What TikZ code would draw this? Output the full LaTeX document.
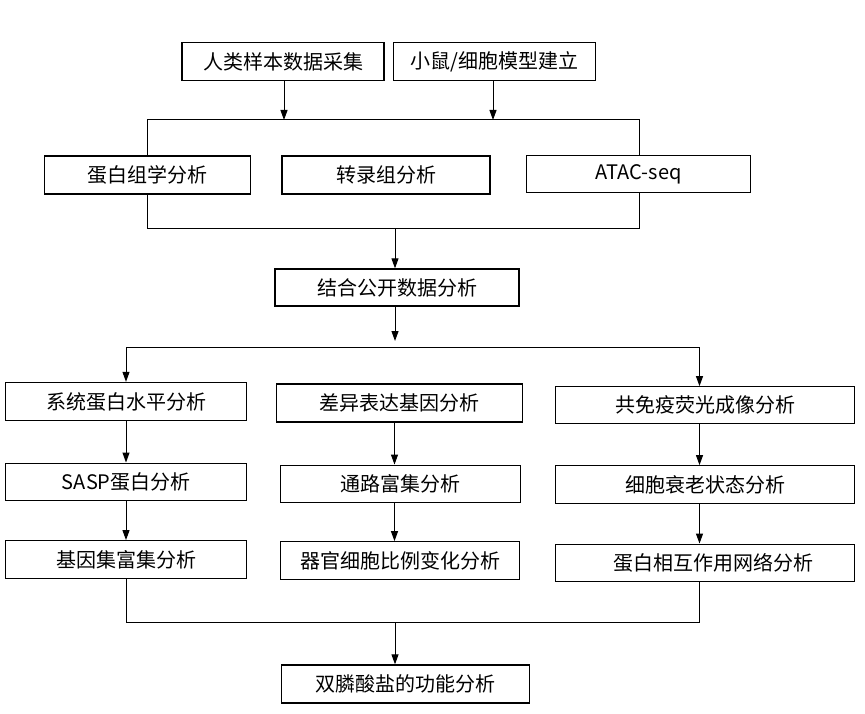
\documentclass[tikz,border=0pt]{standalone}
\usepackage{fontspec}
\setmainfont{Noto Sans CJK SC}
\usetikzlibrary{arrows.meta}
\tikzset{
  box/.style={draw=black, line width=1.3pt, fill=white, inner sep=0pt, font=\fontsize{20}{24}\selectfont},
  conn/.style={draw=black, line width=1pt},
  arr/.style={conn, -{Triangle[length=10pt,width=7pt]}}
}
\begin{document}
\begin{tikzpicture}[x=1pt,y=-1pt]
\useasboundingbox (0,0) rectangle (865,714);
% top
\node[box, minimum width=202pt, minimum height=38pt] (A) at (283,61.5) {人类样本数据采集};
\node[box, minimum width=202pt, minimum height=38pt] (B) at (494.5,61.5) {小鼠/细胞模型建立};
\node[box, minimum width=206pt, minimum height=38pt] (P) at (147.5,175) {蛋白组学分析};
\node[box, minimum width=208pt, minimum height=38pt] (T) at (386,175) {转录组分析};
\node[box, minimum width=224pt, minimum height=37pt] (C) at (638.5,174) {ATAC-seq};
\node[box, minimum width=244pt, minimum height=37pt] (J) at (397,287.5) {结合公开数据分析};
% coordinates
\coordinate (tl) at (147.5,120);
\coordinate (tr) at (639.3,120);
\coordinate (bl) at (147.5,228.5);
\coordinate (br) at (639.3,228.5);
\coordinate (bm) at (395,228.5);
\coordinate (jm) at (395,341);
\coordinate (hl) at (126,347.5);
\coordinate (hr) at (699.5,347.5);
\coordinate (xL) at (126,0);
\coordinate (xM) at (394.5,0);
\coordinate (xR) at (699.5,0);
% rows
\node[box, minimum width=241pt, minimum height=38pt] (S1) at (126.3,401.5) {系统蛋白水平分析};
\node[box, minimum width=246pt, minimum height=38pt] (D1) at (399.7,403) {差异表达基因分析};
\node[box, minimum width=299pt, minimum height=37pt] (G1) at (705,405.3) {共免疫荧光成像分析};
\node[box, minimum width=241pt, minimum height=37pt] (S2) at (126.3,481.7) {SASP蛋白分析};
\node[box, minimum width=240pt, minimum height=37pt] (D2) at (400.3,483.7) {通路富集分析};
\node[box, minimum width=299pt, minimum height=37.5pt] (G2) at (705,484.5) {细胞衰老状态分析};
\node[box, minimum width=241pt, minimum height=37.5pt] (S3) at (126.3,559.5) {基因集富集分析};
\node[box, minimum width=239pt, minimum height=38pt] (D3) at (400,560.8) {器官细胞比例变化分析};
\node[box, minimum width=299pt, minimum height=37pt] (G3) at (705,562.7) {\hspace*{16pt}蛋白相互作用网络分析};
\node[box, minimum width=248pt, minimum height=38pt] (F) at (405.5,684) {双膦酸盐的功能分析};
\coordinate (ql) at (126,622);
\coordinate (qr) at (699.5,622);
\coordinate (qm) at (395,622);
% connectors top
\draw[arr] (A.south -| 284,0) -- (284,120);
\draw[arr] (B.south -| 493,0) -- (493,120);
\draw[conn] (P.north -| tl) -- (tl) -- (tr) -- (C.north -| tr);
\draw[conn] (P.south -| bl) -- (bl) -- (br) -- (C.south -| br);
\draw[arr] (bm) -- (J.north -| bm);
\draw[arr] (J.south -| jm) -- (jm);
\draw[conn] (S1.north -| hl) ++(0,-4) -- (hl) -- (hr) -- ++(0,4);
\draw[arr] (hl) -- (S1.north -| hl);
\draw[arr] (hr) -- (G1.north -| hr);
% column arrows
\draw[arr] (S1.south -| xL) -- (S2.north -| xL);
\draw[arr] (S2.south -| xL) -- (S3.north -| xL);
\draw[arr] (D1.south -| xM) -- (D2.north -| xM);
\draw[arr] (D2.south -| xM) -- (D3.north -| xM);
\draw[arr] (G1.south -| xR) -- (G2.north -| xR);
\draw[arr] (G2.south -| xR) -- (G3.north -| xR);
% bottom
\draw[conn] (S3.south -| ql) -- (ql) -- (qr) -- (G3.south -| qr);
\draw[arr] (qm) -- (F.north -| qm);
\end{tikzpicture}
\end{document}
